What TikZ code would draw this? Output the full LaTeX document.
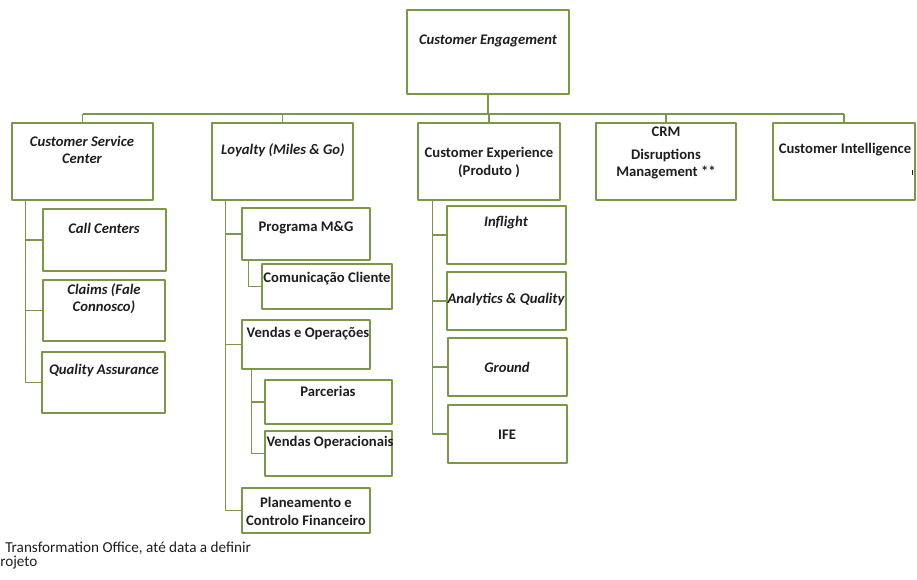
\documentclass[tikz,border=0pt]{standalone}
\usepackage{fontspec}
\setmainfont{Carlito}
\usetikzlibrary{fit}
\definecolor{boxgreen}{RGB}{122,152,70}
\definecolor{inkgray}{RGB}{30,30,30}
\begin{document}
\begin{tikzpicture}[x=0.75pt, y=-0.75pt, line join=round, text=inkgray,
    font=\fontsize{11}{13}\selectfont\bfseries]
  \tikzset{
    box/.style={draw=boxgreen, line width=1pt, inner sep=0pt, fit={#1}},
    link/.style={draw=boxgreen, line width=0.8pt},
    lbl/.style={inner sep=0pt, align=center},
    itl/.style={lbl, font=\fontsize{11}{13}\selectfont\bfseries\itshape},
  }
  \useasboundingbox (0,0) rectangle (917,580);
  % topo
  \node[box={(407,10) (569,94)}] (ce) {};
  \node[itl] (ce-t) at (488,41) {Customer Engagement};
  % nivel 1
  \node[box={(12,123) (153,200)}] (csc) {};
  \node[itl] (csc-t) at (82,150) {Customer Service\\Center};
  \node[box={(212,123) (353,200)}] (loy) {};
  \node[itl] (loy-t) at (283,150) {Loyalty (Miles \& Go)};
  \node[box={(418,123) (560,200)}] (cx) {};
  \node[lbl] (cx-t) at (489,162.5) {Customer Experience\\(Produto )};
  \node[box={(596,123) (736,200)}] (crm) {};
  \node[lbl] (crm-t) at (666,153) {CRM\\[4pt]Disruptions\\Management **};
  \node[box={(773,123) (915,200)}] (ci) {};
  \node[lbl] (ci-t) at (845,150) {Customer Intelligence};
  \draw[inkgray, line width=0.6pt] (912,170) -- (912,175);
  % ligacoes nivel 1
  \coordinate (bar) at (0,114);
  \draw[link] (ce.south) -- (ce.south |- bar);
  \draw[link] (csc.north |- bar) -- (ci.north |- bar);
  \foreach \n in {csc,loy,cx,crm,ci}
    \draw[link] (\n.north |- bar) -- (\n.north);
  % Customer Service Center
  \node[box={(43,209) (166,271)}] (cc) {};
  \node[itl] (cc-t) at (104,228) {Call Centers};
  \node[box={(43,280) (165,341)}] (cl) {};
  \node[itl] (cl-t) at (104,299) {Claims (Fale\\Connosco)};
  \node[box={(42,352) (165,413)}] (qa) {};
  \node[itl] (qa-t) at (104,371) {Quality Assurance};
  \coordinate (csc-l) at ([xshift=10.5pt]csc.south west);
  \draw[link] (csc-l) |- (qa.west);
  \foreach \n in {cc,cl}
    \draw[link] (csc-l |- \n.west) -- (\n.west);
  % Loyalty
  \node[box={(242,208) (370,260)}] (pmg) {};
  \node[lbl] (pmg-t) at (306,228) {Programa M\&G};
  \node[box={(262,264) (392,309)}] (com) {};
  \node[lbl] (com-t) at (327,279) {Comunicação Cliente};
  \node[box={(242,320) (370,369)}] (veo) {};
  \node[lbl] (veo-t) at (308,334) {Vendas e Operações};
  \node[box={(265,380) (392,424)}] (par) {};
  \node[lbl] (par-t) at (328,391) {Parcerias};
  \node[box={(265,431) (392,476)}] (vop) {};
  \node[lbl] (vop-t) at (330,443) {Vendas Operacionais};
  \node[box={(242,488) (370,533)}] (pcf) {};
  \node[lbl] (pcf-t) at (306,511.5) {Planeamento e\\Controlo Financeiro};
  \coordinate (loy-l) at ([xshift=10.5pt]loy.south west);
  \draw[link] (loy-l) |- (pcf.west);
  \foreach \n in {pmg,veo}
    \draw[link] (loy-l |- \n.west) -- (\n.west);
  \coordinate (pmg-l) at ([xshift=5.25pt]pmg.south west);
  \draw[link] (pmg-l) |- (com.west);
  \coordinate (veo-l) at ([xshift=7.5pt]veo.south west);
  \draw[link] (veo-l) |- (vop.west);
  \draw[link] (veo-l |- par.west) -- (par.west);
  % Customer Experience
  \node[box={(447,206) (566,264)}] (inf) {};
  \node[itl] (inf-t) at (506,223) {Inflight};
  \node[box={(447,272) (566,330)}] (aq) {};
  \node[itl] (aq-t) at (506,300) {Analytics \& Quality};
  \node[box={(448,338) (567,396)}] (gr) {};
  \node[itl] (gr-t) at (507,367) {Ground};
  \node[box={(448,405) (567,463)}] (ife) {};
  \node[lbl] (ife-t) at (507,435) {IFE};
  \coordinate (cx-l) at ([xshift=11.25pt]cx.south west);
  \draw[link] (cx-l) |- (ife.west);
  \foreach \n in {inf,aq,gr}
    \draw[link] (cx-l |- \n.west) -- (\n.west);
  % nota
  \node[lbl, anchor=west, font=\fontsize{11.4}{13}\selectfont] (nota1) at (5,548)
    {Transformation Office, até data a definir};
  \node[lbl, anchor=west, font=\fontsize{11.4}{13}\selectfont] (nota2) at (0,563) {rojeto};
\end{tikzpicture}
\end{document}
